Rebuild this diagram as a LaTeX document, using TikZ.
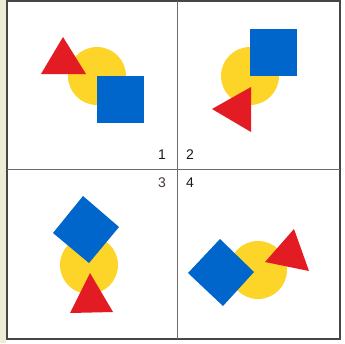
\documentclass[tikz,border=0pt]{standalone}
\usepackage{fontspec}
\setmainfont{Liberation Sans}
\definecolor{cred}{RGB}{226,28,34}
\definecolor{cblue}{RGB}{0,102,204}
\definecolor{cyel}{RGB}{253,212,40}
\definecolor{cbeige}{RGB}{238,236,214}
\definecolor{cline}{RGB}{70,70,70}
\tikzset{
  disc/.style={fill=cyel},
  sq/.style={fill=cblue},
  tri/.style={fill=cred},
  lbl/.style={font=\fontsize{14}{14}\selectfont, text=black!90, inner sep=0pt},
  frameline/.style={draw=cline, line width=1.4pt},
  midline/.style={draw=cline!80, line width=0.9pt}
}
\begin{document}
\begin{tikzpicture}[x=1pt,y=-1pt]
\useasboundingbox (0,0) rectangle (345,343);
\fill[white] (0,0) rectangle (345,343);
\fill[cbeige] (0,0) rectangle (6,343);
% quadrant 1
\fill[disc] (97,76) circle (29);
\fill[sq] (97,76) rectangle (144,123);
\fill[tri] (63,37) -- (41,74) -- (86,74) -- cycle;
% quadrant 2
\fill[disc] (250,76) circle (29);
\fill[sq] (250,29) rectangle (297,76);
\fill[tri] (212,109) -- (251,87) -- (251,132) -- cycle;
% quadrant 3
\fill[disc] (89,265) circle (29);
\fill[sq] (83,196) -- (119,227) -- (89,263) -- (53,233) -- cycle;
\fill[tri] (90,273) -- (70,313) -- (113,312) -- cycle;
% quadrant 4
\fill[disc] (258,270) circle (29);
\fill[sq] (220,239) -- (254,272) -- (223,306) -- (188,273) -- cycle;
\fill[tri] (294,229) -- (309,271) -- (265,262) -- cycle;
% frame
\draw[frameline] (7,1) -- (7,339) -- (340,339) -- (340,1) -- cycle;
\draw[midline] (177,1) -- (177,339);
\draw[midline] (7,169) -- (340,169);
% labels
\node[lbl] (l1) at (162,155) {1};
\node[lbl] (l2) at (190,155) {2};
\node[lbl, text={rgb,255:red,80;green,50;blue,55}] (l3) at (162,183) {3};
\node[lbl] (l4) at (190,183) {4};
\end{tikzpicture}
\end{document}
